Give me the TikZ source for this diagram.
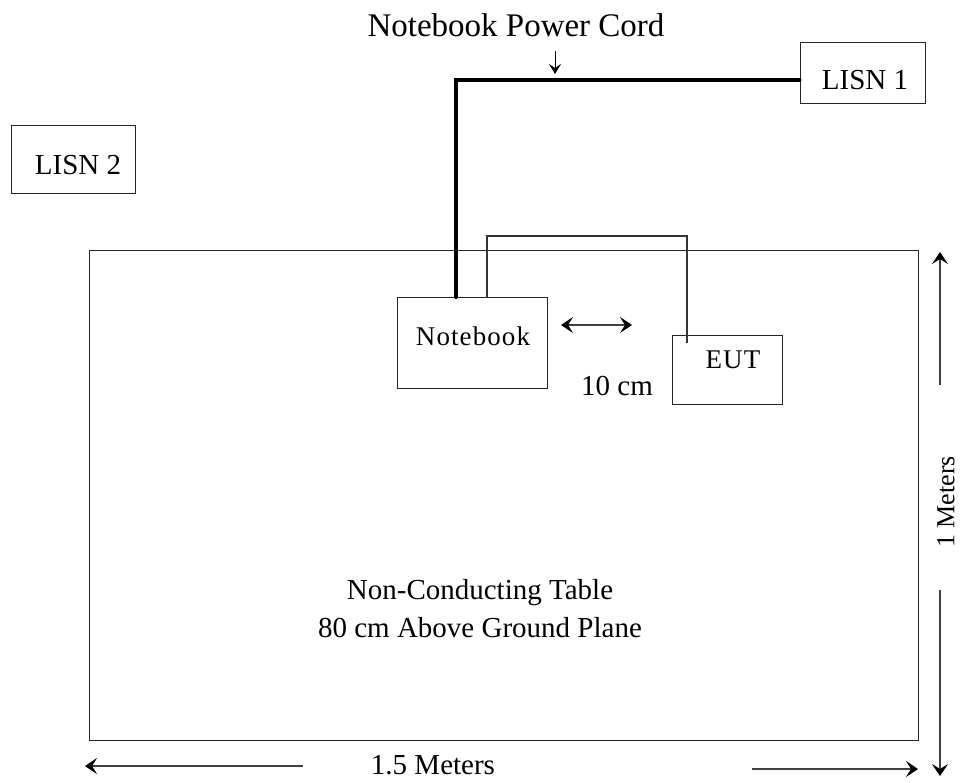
\documentclass[tikz,border=0pt]{standalone}
\usepackage{fontspec}
\setmainfont{Liberation Serif}
\usetikzlibrary{arrows.meta}
\begin{document}
\begin{tikzpicture}[x=1pt,y=-1pt,
  box/.style={draw=black!85,line width=1pt,inner sep=0pt},
  txt/.style={font=\fontsize{29}{34}\selectfont,inner sep=0pt},
  cord/.style={line width=4pt,line cap=round},
  cable/.style={line width=1.2pt,draw=black!80},
  tip/.tip={Stealth[length=12pt,width=16pt,inset=5pt,color=black,fill=black]},
  dim/.style={line width=1.1pt,draw=black!75,-tip},
  dimb/.style={line width=1.1pt,draw=black!75,tip-tip}]
\useasboundingbox (0,0) rectangle (961,782);
% table
\node[box,minimum width=829,minimum height=490] (table) at (503.5,495) {};
\node[txt] (t1) at (480,593) {Non-Conducting Table};
\node[txt] (t2) at (480,628) {80 cm Above Ground Plane};
% LISNs
\node[box,minimum width=125,minimum height=61] (lisn1) at (862.5,72.5) {};
\node[txt] (l1) at (865,80) {LISN 1};
\node[box,minimum width=124,minimum height=68] (lisn2) at (73,159) {};
\node[txt] (l2) at (78,165) {LISN 2};
% notebook and EUT
\node[box,minimum width=150,minimum height=91] (nb) at (472,343) {};
\node[txt,font=\fontsize{27}{32}\selectfont] (nbt) at (473,336) {\addfontfeatures{LetterSpace=4}Notebook};
\node[box,minimum width=110,minimum height=69] (eut) at (727,369.5) {};
\node[txt,font=\fontsize{27}{32}\selectfont] (eutt) at (733,360) {\addfontfeatures{LetterSpace=4}EUT};
% power cord
\coordinate (cordx) at (456,80);
\draw[cord] (cordx -| lisn1.west) -- (cordx) -- (nb.north -| cordx);
\node[txt,font=\fontsize{33}{38}\selectfont] (title) at (516,25) {Notebook Power Cord};
\coordinate (pa) at (555,51);
\coordinate (pb) at (555,74);
\draw[line width=1pt,-{Stealth[length=10pt,width=12pt,inset=4pt]}] (pa) -- (pb);
% cable
\coordinate (c1) at (487,236);
\coordinate (c2) at (687,343);
\draw[cable] (nb.north -| c1) -- (c1) -| (c2);
% 10 cm
\coordinate (d1) at (561,325);
\coordinate (d2) at (632,325);
\draw[dimb] (d1) -- (d2);
\node[txt] (dist) at (617,386) {10 cm};
% 1 Meters
\coordinate (m1) at (940,385);
\coordinate (m2) at (940,252);
\coordinate (m3) at (940,590);
\coordinate (m4) at (940,776);
\draw[dim] (m1) -- (m2);
\draw[dim] (m3) -- (m4);
\node[txt,font=\fontsize{26}{30}\selectfont,rotate=90] (onem) at (946,502) {1 Meters};
% 1.5 Meters
\coordinate (w1) at (303,766);
\coordinate (w2) at (85,766);
\coordinate (w3) at (752,769);
\coordinate (w4) at (918,769);
\draw[dim] (w1) -- (w2);
\draw[dim] (w3) -- (w4);
\node[txt] (wm) at (433,765) {1.5 Meters};
\end{tikzpicture}
\end{document}
